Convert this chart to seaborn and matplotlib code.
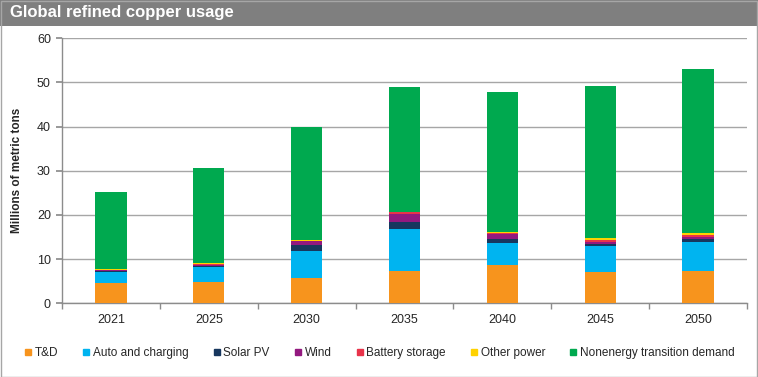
import numpy as np
import pandas as pd
import matplotlib
matplotlib.use("Agg")
import matplotlib.pyplot as plt
from matplotlib.patches import Rectangle
from matplotlib.lines import Line2D
import seaborn as sns

years = ["2021", "2025", "2030", "2035", "2040", "2045", "2050"]
td = [4.6, 4.8, 5.8, 7.3, 8.6, 7.2, 7.3]
auto = [2.5, 3.4, 6.1, 9.45, 5.0, 5.7, 6.6]
solar = [0.2, 0.25, 1.2, 1.75, 1.0, 0.5, 0.6]
wind = [0.15, 0.25, 0.9, 1.8, 1.1, 0.5, 0.5]
battery = [0.2, 0.15, 0.05, 0.3, 0.3, 0.5, 0.5]
other = [0.2, 0.2, 0.25, 0.1, 0.15, 0.3, 0.35]
nonenergy = [17.35, 21.55, 25.7, 28.2, 31.65, 34.5, 37.15]

series_names = ["T&D", "Auto and charging", "Solar PV", "Wind", "Battery storage",
                "Other power", "Nonenergy transition demand"]
series_vals = [td, auto, solar, wind, battery, other, nonenergy]
colors = ["#F7941D", "#00B4F0", "#17375E", "#93197F", "#E8334A", "#FFD200", "#00A94F"]

sns.set_theme(style="white")
plt.rcParams["font.family"] = ["Liberation Sans", "DejaVu Sans"]

W, H = 758, 377
fig = plt.figure(figsize=(W / 100, H / 100), dpi=100)
ax = fig.add_axes([62 / W, 1 - 303.3 / H, (747 - 62) / W, (303.3 - 38.3) / H])

# cumulative stacking: draw largest cumulative first
cum = np.cumsum(np.array(series_vals), axis=0)
for i in range(len(series_names) - 1, -1, -1):
    df = pd.DataFrame({"year": years, "value": cum[i]})
    sns.barplot(data=df, x="year", y="value", color=colors[i], width=0.32,
                saturation=1, ax=ax, zorder=3, linewidth=0)

ax.set_ylim(0, 60)
ax.set_xlim(-0.5, 6.5)
ax.set_yticks(range(0, 61, 10))
ax.yaxis.grid(True, color="#a6a6a6", linewidth=1.0, zorder=0)
ax.xaxis.grid(False)
ax.set_axisbelow(True)
for s in ["top", "right"]:
    ax.spines[s].set_visible(False)
for s in ["left", "bottom"]:
    ax.spines[s].set_color("#8c8c8c")
    ax.spines[s].set_linewidth(1.0)
ax.set_xlabel("")
ax.set_ylabel("Millions of metric tons", fontsize=8.5, fontweight="bold", labelpad=10)
ax.tick_params(axis="y", which="major", length=4, direction="out", color="#8c8c8c",
               labelsize=9, pad=4, left=True)
ax.tick_params(axis="x", which="major", length=0, labelsize=9, pad=8)
ax.set_xticks(np.arange(-0.5, 7, 1), minor=True)
ax.tick_params(axis="x", which="minor", length=4, direction="out", color="#8c8c8c", bottom=True)

# title bar
fig.patches.append(Rectangle((0, 1 - 26 / H), 1, 26 / H, transform=fig.transFigure,
                             facecolor="#7f7f7f", edgecolor="none", zorder=0))
fig.text(10 / W, 1 - 13 / H, "Global refined copper usage", color="white",
         fontsize=12, fontweight="bold", va="center", ha="left",
         fontstretch="condensed")
# figure border
fig.patches.append(Rectangle((0.5 / W, 0.5 / H), (W - 2) / W, (H - 1) / H,
                             transform=fig.transFigure, facecolor="none",
                             edgecolor="#a6a6a6", linewidth=1.0, zorder=0))

handles = [Line2D([0], [0], marker="s", linestyle="none", markersize=5,
                  markerfacecolor=c, markeredgecolor=c) for c in colors]
fig.legend(handles, series_names, loc="center", bbox_to_anchor=(0.5, 1 - 353 / H),
           ncol=7, frameon=False, fontsize=8.5, handletextpad=0.15,
           columnspacing=2.0, handlelength=0.8, borderaxespad=0)

fig.savefig("out.png", dpi=100)
